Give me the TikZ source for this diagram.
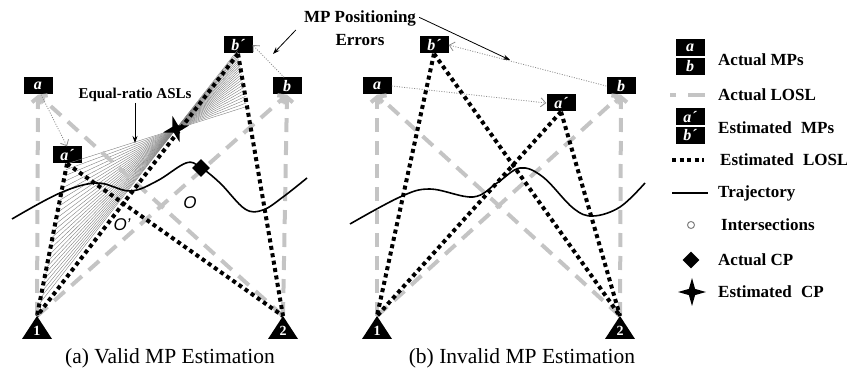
\documentclass[tikz,border=0pt]{standalone}
\usepackage{fontspec}
\setmainfont{Liberation Serif}
\newfontfamily\labelsans{Liberation Sans}
\usetikzlibrary{positioning,calc,arrows.meta,shapes.geometric}
\definecolor{loslgray}{RGB}{196,196,196}
\definecolor{errgray}{RGB}{140,140,140}

\begin{document}
\begin{tikzpicture}[x=1pt, y=-1pt,
  mpbox/.style={fill=black, text=white, font=\fontsize{16}{16}\selectfont\bfseries\itshape, minimum width=29pt, minimum height=17pt, inner sep=0pt},
  sensorlbl/.style={text=white, font=\fontsize{14}{14}\selectfont\bfseries, inner sep=0pt},
  actualline/.style={draw=loslgray, line width=4pt, dash pattern=on 14pt off 9pt, -{Straight Barb[length=5pt,width=12pt]}},
  estline/.style={draw=black, line width=4pt, dash pattern=on 4pt off 3.5pt},
  aslline/.style={draw=gray, line width=0.4pt},
  errarrow/.style={draw=errgray, line width=0.8pt, dash pattern=on 1pt off 1.5pt, -{Straight Barb[length=5pt,width=9pt]}},
  notearrow/.style={draw=black, line width=0.8pt, -{Stealth[length=7pt,width=5pt]}},
  traj/.style={draw=black, line width=1.6pt},
  notetext/.style={font=\fontsize{15}{17}\selectfont\bfseries, align=center, inner sep=1pt},
  legtext/.style={font=\fontsize{17}{17}\selectfont\bfseries, anchor=west, inner sep=0pt},
  captext/.style={font=\fontsize{21.5}{22}\selectfont},
  olabel/.style={font=\labelsans\fontsize{17}{17}\selectfont\itshape},
  cpmark/.style={diamond, fill=black, minimum size=18pt, inner sep=0pt},
  estmark/.style={star, star points=4, star point ratio=3.2, fill=black, minimum size=27pt, inner sep=0pt},
  xmark/.style={circle, draw=gray, line width=1pt, minimum size=7pt, inner sep=0pt}]
\useasboundingbox (0,0) rectangle (847,371);

% panel (a)
\coordinate (s1A) at (37,316);
\coordinate (s2A) at (283,316);
\node[mpbox] (aA) at (38,86) {a};
\node[mpbox] (bA) at (287,86) {b};
\node[mpbox] (apA) at (67,155) {a´};
\node[mpbox] (bpA) at (238,45) {b´};
\coordinate (cpA) at (176,129);
\coordinate (bpfoot) at (bpA.south);
% equal-ratio lines
\foreach \t in {0,0.04,...,0.93} {
  \coordinate (fl) at ($(apA.south)!\t!(s1A)$);
  \draw[aslline] (fl) -- (intersection of fl--cpA and bpfoot--s2A);
}
\draw[actualline] (s1A) -- (aA.south);
\draw[actualline] (s2A) -- (aA.south);
\draw[actualline] (s2A) -- (bA.south);
\draw[actualline] (s1A) -- (bA.south);
\draw[estline] (apA.south) -- (s1A);
\draw[estline] (apA.south) -- (s2A);
\draw[estline] (bpA.south) -- (s1A);
\draw[estline] (bpA.south) -- (s2A);
\draw[traj] plot[smooth, tension=0.6] coordinates {(12,219) (60,193) (97,183) (130,191) (157,181) (186,163) (200,167) (220,183) (245,209) (263,210) (283,197) (307,178)};
\draw[errarrow] ([xshift=3pt]aA.south) -- (apA.north);
\draw[errarrow] ([xshift=-3pt]bA.north) -- (bpA.east);
\node[olabel] (oA) at (190,203) {O};
\node[olabel] (opA) at (122,225) {O’};
\node[cpmark] (cpd) at (201,168) {};
\node[estmark, rotate=15] (cps) at (cpA) {};
\node[notetext] (aslnote) at (135,95) {Equal-ratio ASLs};
\coordinate (asltip) at (135,143);
\draw[notearrow] (aslnote.south) -- (asltip);
\fill (s1A) -- ++(-15,23) -- ++(30,0) -- cycle;
\fill (s2A) -- ++(-15,23) -- ++(30,0) -- cycle;
\node[sensorlbl] (n1A) at (37,331) {1};
\node[sensorlbl] (n2A) at (283,331) {2};
\node[captext] (capA) at (170,358) {(a) Valid MP Estimation};

% panel (b)
\coordinate (s1B) at (377,316);
\coordinate (s2B) at (620,316);
\node[mpbox] (aB) at (377,86) {a};
\node[mpbox] (bB) at (621,86) {b};
\node[mpbox] (apB) at (561,103) {a´};
\node[mpbox] (bpB) at (434,45) {b´};
\draw[actualline] (s1B) -- (aB.south);
\draw[actualline] (s2B) -- (aB.south);
\draw[actualline] (s2B) -- (bB.south);
\draw[actualline] (s1B) -- (bB.south);
\draw[estline] (apB.south) -- (s1B);
\draw[estline] (apB.south) -- (s2B);
\draw[estline] (bpB.south) -- (s1B);
\draw[estline] (bpB.south) -- (s2B);
\draw[traj] plot[smooth, tension=0.6] coordinates {(350,224) (400,197) (430,189) (473,197) (497,183) (520,168) (543,177) (573,208) (593,216) (620,207) (645,183)};
\draw[errarrow] (aB.east) -- (apB.west);
\draw[errarrow] (bB.west) -- (bpB.east);
\fill (s1B) -- ++(-15,23) -- ++(30,0) -- cycle;
\fill (s2B) -- ++(-15,23) -- ++(30,0) -- cycle;
\node[sensorlbl] (n1B) at (377,331) {1};
\node[sensorlbl] (n2B) at (620,331) {2};
\node[captext] (capB) at (522,358) {(b) Invalid MP Estimation};

% error note
\node[notetext, font=\fontsize{17}{23}\selectfont\bfseries] (errnote) at (360,28) {MP Positioning\\Errors};
\coordinate (errtipA) at (273,54);
\coordinate (errtipB) at (510,60);
\draw[notearrow] ([shift={(-7,2)}]errnote.west) -- (errtipA);
\draw[notearrow] ([shift={(2,8)}]errnote.north east) -- (errtipB);

% legend
\node[mpbox] (lgA) at (690,48) {a};
\node[mpbox, below=1pt of lgA] (lgB) {b};
\node[legtext] (ltA) at (718,60) {Actual MPs};
\coordinate (ldA1) at (670,95);
\coordinate (ldA2) at (705,95);
\draw[draw=loslgray, line width=4pt, dash pattern=on 17pt off 12pt, dash phase=11pt] (ldA1) -- (ldA2);
\node[legtext] (ltB) at (718,95) {Actual LOSL};
\node[mpbox] (lgAp) at (690,117) {a´};
\node[mpbox, below=1pt of lgAp] (lgBp) {b´};
\node[legtext] (ltC) at (718,128) {Estimated\hspace{5pt} MPs};
\coordinate (ldB1) at (672,160);
\coordinate (ldB2) at (704,160);
\draw[estline] (ldB1) -- (ldB2);
\node[legtext] (ltD) at (720,160) {Estimated\hspace{5pt} LOSL};
\coordinate (ldC1) at (672,193);
\coordinate (ldC2) at (708,193);
\draw[traj] (ldC1) -- (ldC2);
\node[legtext] (ltE) at (718,193) {Trajectory};
\node[xmark] (lgX) at (691,225) {};
\node[legtext] (ltF) at (721,225) {Intersections};
\node[cpmark, minimum size=17pt] (lgD) at (691,260) {};
\node[legtext] (ltG) at (718,260) {Actual CP};
\node[estmark, minimum size=28pt] (lgS) at (692,292) {};
\node[legtext] (ltH) at (718,292) {Estimated\hspace{5pt} CP};
\end{tikzpicture}
\end{document}
